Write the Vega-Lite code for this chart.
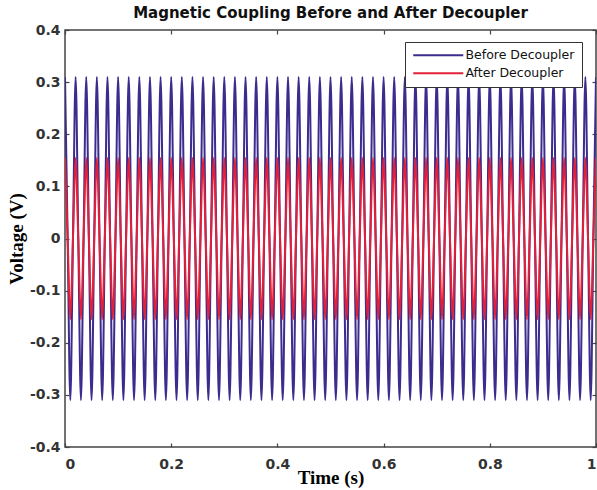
{
 "$schema": "https://vega.github.io/schema/vega-lite/v6.json",
 "width": 531, "height": 417,
 "autosize": {"type": "none"},
 "padding": {"left": 65, "top": 30, "right": 1, "bottom": 43},
 "background": "white",
 "title": {"text": "Magnetic Coupling Before and After Decoupler", "font": "DejaVu Sans", "fontSize": 15, "fontWeight": "bold", "color": "#111", "anchor": "middle", "offset": 2},
 "config": {
  "view": {"stroke": "#444", "strokeWidth": 1.5},
  "axis": {"grid": false, "domain": false, "tickColor": "#444", "tickSize": -4, "tickWidth": 1.2,
   "labelFont": "DejaVu Sans", "labelFontSize": 14, "labelFontWeight": "bold", "labelColor": "#333",
   "titleFont": "Liberation Serif", "titleFontSize": 19, "titleFontWeight": "bold", "titleColor": "#000"}
 },
 "data": {"values": [
{"t":0,"b":0.31,"a":0.155},{"t":0.005,"b":0,"a":0},{"t":0.01,"b":-0.31,"a":-0.155},{"t":0.015,"b":0,"a":0},
{"t":0.02,"b":0.31,"a":0.155},{"t":0.025,"b":0,"a":0},{"t":0.03,"b":-0.31,"a":-0.155},{"t":0.035,"b":0,"a":0},
{"t":0.04,"b":0.31,"a":0.155},{"t":0.045,"b":0,"a":0},{"t":0.05,"b":-0.31,"a":-0.155},{"t":0.055,"b":0,"a":0},
{"t":0.06,"b":0.31,"a":0.155},{"t":0.065,"b":0,"a":0},{"t":0.07,"b":-0.31,"a":-0.155},{"t":0.075,"b":0,"a":0},
{"t":0.08,"b":0.31,"a":0.155},{"t":0.085,"b":0,"a":0},{"t":0.09,"b":-0.31,"a":-0.155},{"t":0.095,"b":0,"a":0},
{"t":0.1,"b":0.31,"a":0.155},{"t":0.105,"b":0,"a":0},{"t":0.11,"b":-0.31,"a":-0.155},{"t":0.115,"b":0,"a":0},
{"t":0.12,"b":0.31,"a":0.155},{"t":0.125,"b":0,"a":0},{"t":0.13,"b":-0.31,"a":-0.155},{"t":0.135,"b":0,"a":0},
{"t":0.14,"b":0.31,"a":0.155},{"t":0.145,"b":0,"a":0},{"t":0.15,"b":-0.31,"a":-0.155},{"t":0.155,"b":0,"a":0},
{"t":0.16,"b":0.31,"a":0.155},{"t":0.165,"b":0,"a":0},{"t":0.17,"b":-0.31,"a":-0.155},{"t":0.175,"b":0,"a":0},
{"t":0.18,"b":0.31,"a":0.155},{"t":0.185,"b":0,"a":0},{"t":0.19,"b":-0.31,"a":-0.155},{"t":0.195,"b":0,"a":0},
{"t":0.2,"b":0.31,"a":0.155},{"t":0.205,"b":0,"a":0},{"t":0.21,"b":-0.31,"a":-0.155},{"t":0.215,"b":0,"a":0},
{"t":0.22,"b":0.31,"a":0.155},{"t":0.225,"b":0,"a":0},{"t":0.23,"b":-0.31,"a":-0.155},{"t":0.235,"b":0,"a":0},
{"t":0.24,"b":0.31,"a":0.155},{"t":0.245,"b":0,"a":0},{"t":0.25,"b":-0.31,"a":-0.155},{"t":0.255,"b":0,"a":0},
{"t":0.26,"b":0.31,"a":0.155},{"t":0.265,"b":0,"a":0},{"t":0.27,"b":-0.31,"a":-0.155},{"t":0.275,"b":0,"a":0},
{"t":0.28,"b":0.31,"a":0.155},{"t":0.285,"b":0,"a":0},{"t":0.29,"b":-0.31,"a":-0.155},{"t":0.295,"b":0,"a":0},
{"t":0.3,"b":0.31,"a":0.155},{"t":0.305,"b":0,"a":0},{"t":0.31,"b":-0.31,"a":-0.155},{"t":0.315,"b":0,"a":0},
{"t":0.32,"b":0.31,"a":0.155},{"t":0.325,"b":0,"a":0},{"t":0.33,"b":-0.31,"a":-0.155},{"t":0.335,"b":0,"a":0},
{"t":0.34,"b":0.31,"a":0.155},{"t":0.345,"b":0,"a":0},{"t":0.35,"b":-0.31,"a":-0.155},{"t":0.355,"b":0,"a":0},
{"t":0.36,"b":0.31,"a":0.155},{"t":0.365,"b":0,"a":0},{"t":0.37,"b":-0.31,"a":-0.155},{"t":0.375,"b":0,"a":0},
{"t":0.38,"b":0.31,"a":0.155},{"t":0.385,"b":0,"a":0},{"t":0.39,"b":-0.31,"a":-0.155},{"t":0.395,"b":0,"a":0},
{"t":0.4,"b":0.31,"a":0.155},{"t":0.405,"b":0,"a":0},{"t":0.41,"b":-0.31,"a":-0.155},{"t":0.415,"b":0,"a":0},
{"t":0.42,"b":0.31,"a":0.155},{"t":0.425,"b":0,"a":0},{"t":0.43,"b":-0.31,"a":-0.155},{"t":0.435,"b":0,"a":0},
{"t":0.44,"b":0.31,"a":0.155},{"t":0.445,"b":0,"a":0},{"t":0.45,"b":-0.31,"a":-0.155},{"t":0.455,"b":0,"a":0},
{"t":0.46,"b":0.31,"a":0.155},{"t":0.465,"b":0,"a":0},{"t":0.47,"b":-0.31,"a":-0.155},{"t":0.475,"b":0,"a":0},
{"t":0.48,"b":0.31,"a":0.155},{"t":0.485,"b":0,"a":0},{"t":0.49,"b":-0.31,"a":-0.155},{"t":0.495,"b":0,"a":0},
{"t":0.5,"b":0.31,"a":0.155},{"t":0.505,"b":0,"a":0},{"t":0.51,"b":-0.31,"a":-0.155},{"t":0.515,"b":0,"a":0},
{"t":0.52,"b":0.31,"a":0.155},{"t":0.525,"b":0,"a":0},{"t":0.53,"b":-0.31,"a":-0.155},{"t":0.535,"b":0,"a":0},
{"t":0.54,"b":0.31,"a":0.155},{"t":0.545,"b":0,"a":0},{"t":0.55,"b":-0.31,"a":-0.155},{"t":0.555,"b":0,"a":0},
{"t":0.56,"b":0.31,"a":0.155},{"t":0.565,"b":0,"a":0},{"t":0.57,"b":-0.31,"a":-0.155},{"t":0.575,"b":0,"a":0},
{"t":0.58,"b":0.31,"a":0.155},{"t":0.585,"b":0,"a":0},{"t":0.59,"b":-0.31,"a":-0.155},{"t":0.595,"b":0,"a":0},
{"t":0.6,"b":0.31,"a":0.155},{"t":0.605,"b":0,"a":0},{"t":0.61,"b":-0.31,"a":-0.155},{"t":0.615,"b":0,"a":0},
{"t":0.62,"b":0.31,"a":0.155},{"t":0.625,"b":0,"a":0},{"t":0.63,"b":-0.31,"a":-0.155},{"t":0.635,"b":0,"a":0},
{"t":0.64,"b":0.31,"a":0.155},{"t":0.645,"b":0,"a":0},{"t":0.65,"b":-0.31,"a":-0.155},{"t":0.655,"b":0,"a":0},
{"t":0.66,"b":0.31,"a":0.155},{"t":0.665,"b":0,"a":0},{"t":0.67,"b":-0.31,"a":-0.155},{"t":0.675,"b":0,"a":0},
{"t":0.68,"b":0.31,"a":0.155},{"t":0.685,"b":0,"a":0},{"t":0.69,"b":-0.31,"a":-0.155},{"t":0.695,"b":0,"a":0},
{"t":0.7,"b":0.31,"a":0.155},{"t":0.705,"b":0,"a":0},{"t":0.71,"b":-0.31,"a":-0.155},{"t":0.715,"b":0,"a":0},
{"t":0.72,"b":0.31,"a":0.155},{"t":0.725,"b":0,"a":0},{"t":0.73,"b":-0.31,"a":-0.155},{"t":0.735,"b":0,"a":0},
{"t":0.74,"b":0.31,"a":0.155},{"t":0.745,"b":0,"a":0},{"t":0.75,"b":-0.31,"a":-0.155},{"t":0.755,"b":0,"a":0},
{"t":0.76,"b":0.31,"a":0.155},{"t":0.765,"b":0,"a":0},{"t":0.77,"b":-0.31,"a":-0.155},{"t":0.775,"b":0,"a":0},
{"t":0.78,"b":0.31,"a":0.155},{"t":0.785,"b":0,"a":0},{"t":0.79,"b":-0.31,"a":-0.155},{"t":0.795,"b":0,"a":0},
{"t":0.8,"b":0.31,"a":0.155},{"t":0.805,"b":0,"a":0},{"t":0.81,"b":-0.31,"a":-0.155},{"t":0.815,"b":0,"a":0},
{"t":0.82,"b":0.31,"a":0.155},{"t":0.825,"b":0,"a":0},{"t":0.83,"b":-0.31,"a":-0.155},{"t":0.835,"b":0,"a":0},
{"t":0.84,"b":0.31,"a":0.155},{"t":0.845,"b":0,"a":0},{"t":0.85,"b":-0.31,"a":-0.155},{"t":0.855,"b":0,"a":0},
{"t":0.86,"b":0.31,"a":0.155},{"t":0.865,"b":0,"a":0},{"t":0.87,"b":-0.31,"a":-0.155},{"t":0.875,"b":0,"a":0},
{"t":0.88,"b":0.31,"a":0.155},{"t":0.885,"b":0,"a":0},{"t":0.89,"b":-0.31,"a":-0.155},{"t":0.895,"b":0,"a":0},
{"t":0.9,"b":0.31,"a":0.155},{"t":0.905,"b":0,"a":0},{"t":0.91,"b":-0.31,"a":-0.155},{"t":0.915,"b":0,"a":0},
{"t":0.92,"b":0.31,"a":0.155},{"t":0.925,"b":0,"a":0},{"t":0.93,"b":-0.31,"a":-0.155},{"t":0.935,"b":0,"a":0},
{"t":0.94,"b":0.31,"a":0.155},{"t":0.945,"b":0,"a":0},{"t":0.95,"b":-0.31,"a":-0.155},{"t":0.955,"b":0,"a":0},
{"t":0.96,"b":0.31,"a":0.155},{"t":0.965,"b":0,"a":0},{"t":0.97,"b":-0.31,"a":-0.155},{"t":0.975,"b":0,"a":0},
{"t":0.98,"b":0.31,"a":0.155},{"t":0.985,"b":0,"a":0},{"t":0.99,"b":-0.31,"a":-0.155},{"t":0.995,"b":0,"a":0},
{"t":1,"b":0.31,"a":0.155}
 ]},
 "layer": [
  {
   "mark": {"type": "line", "strokeWidth": 2, "interpolate": "monotone", "clip": true},
   "encoding": {
    "x": {"field": "t", "type": "quantitative", "scale": {"domain": [0, 1], "nice": false},
          "axis": {"values": [0, 0.2, 0.4, 0.6, 0.8, 1], "format": ".1~f", "title": "Time (s)", "labelPadding": 14, "titlePadding": -3}},
    "y": {"field": "b", "type": "quantitative", "scale": {"domain": [-0.4, 0.4], "nice": false},
          "axis": {"values": [-0.4, -0.3, -0.2, -0.1, 0, 0.1, 0.2, 0.3, 0.4], "format": ".1~f", "labelExpr": "replace(datum.label, '\u2212', '-')", "title": "Voltage (V)", "labelPadding": 9, "titlePadding": 3}},
    "color": {"datum": "Before Decoupler", "type": "nominal",
     "scale": {"domain": ["Before Decoupler", "After Decoupler"], "range": ["#3d2b8e", "#e3203a"]},
     "legend": {"orient": "none", "legendX": 340, "legendY": 12, "title": null, "symbolType": "M-5,0H5", "symbolSize": 100, "symbolStrokeWidth": 2, "symbolOffset": 20,
       "labelFont": "DejaVu Sans", "labelFontSize": 12.5, "labelColor": "#111", "strokeColor": "#333", "fillColor": "white", "padding": 7, "rowPadding": 5, "labelOffset": 21}}
   }
  },
  {
   "mark": {"type": "line", "strokeWidth": 2, "interpolate": "monotone", "clip": true},
   "encoding": {
    "x": {"field": "t", "type": "quantitative", "axis": {"orient": "top", "values": [0, 0.2, 0.4, 0.6, 0.8, 1], "labels": false, "title": null}},
    "y": {"field": "a", "type": "quantitative", "axis": {"orient": "right", "values": [-0.4, -0.3, -0.2, -0.1, 0, 0.1, 0.2, 0.3, 0.4], "labels": false, "title": null}},
    "color": {"datum": "After Decoupler", "type": "nominal"}
   }
  }
 ],
 "resolve": {"axis": {"x": "independent", "y": "independent"}}
}
